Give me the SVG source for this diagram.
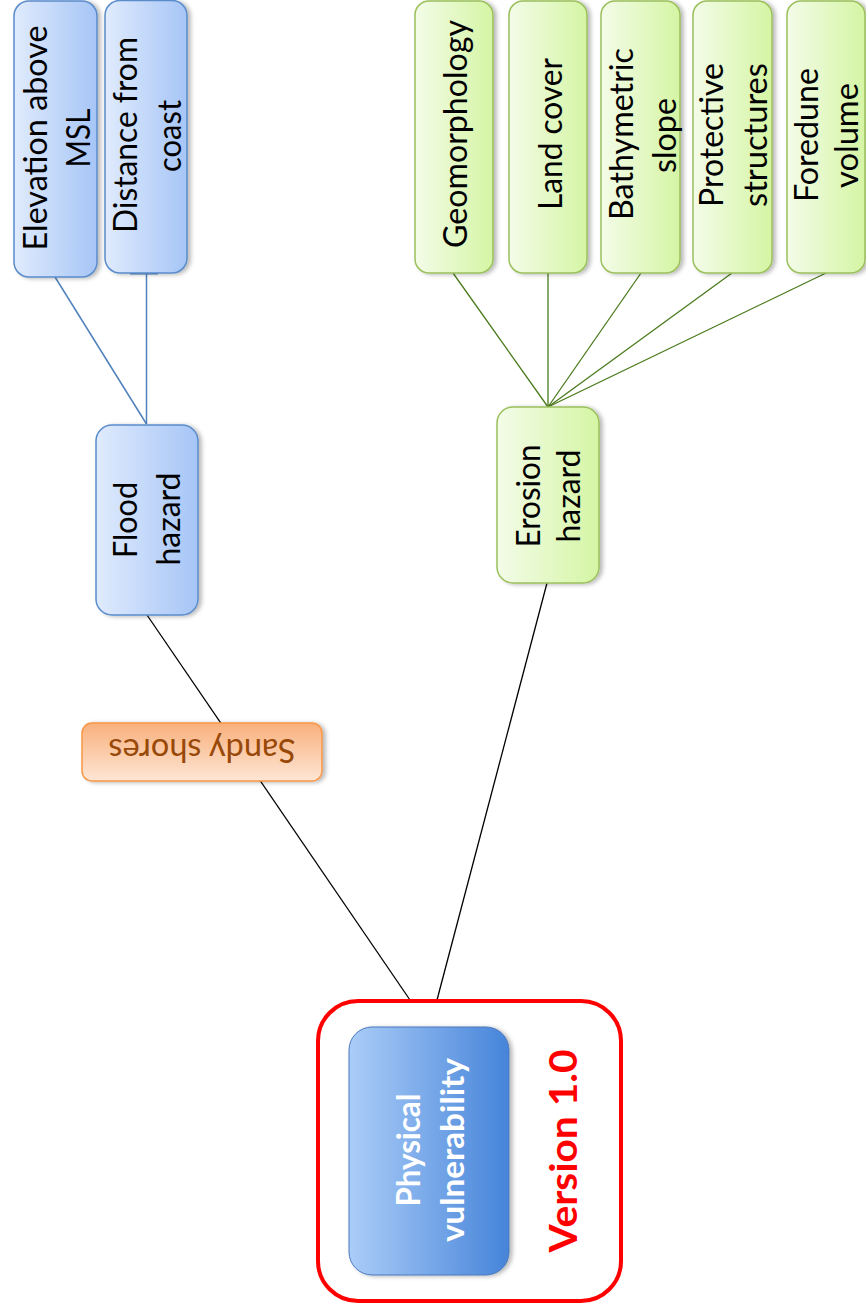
<svg xmlns="http://www.w3.org/2000/svg" width="866" height="1309" viewBox="0 0 866 1309">
<defs>
<linearGradient id="gBlue" x1="0" y1="0" x2="1" y2="0"><stop offset="0" stop-color="#e0ebfd"/><stop offset="1" stop-color="#a6c5f6"/></linearGradient>
<linearGradient id="gGreen" x1="0" y1="0" x2="1" y2="0"><stop offset="0" stop-color="#f3fce8"/><stop offset="1" stop-color="#d5f5a4"/></linearGradient>
<linearGradient id="gOrange" x1="0" y1="0" x2="0" y2="1"><stop offset="0" stop-color="#f9b07c"/><stop offset="1" stop-color="#fde6d5"/></linearGradient>
<linearGradient id="gPhys" x1="0" y1="0" x2="1" y2="0"><stop offset="0" stop-color="#abcdf8"/><stop offset="1" stop-color="#4684d9"/></linearGradient>
<filter id="sh" x="-10%" y="-10%" width="130%" height="130%"><feDropShadow dx="3" dy="1" stdDeviation="2" flood-color="#000" flood-opacity="0.28"/></filter>
</defs>
<style>
.blue{fill:url(#gBlue);stroke:#5a8ccb;stroke-width:1.5;filter:url(#sh)}
.green{fill:url(#gGreen);stroke:#9bc05c;stroke-width:1.5;filter:url(#sh)}
.t{font-family:Lato,"Open Sans",sans-serif;font-size:33px;fill:#000;text-anchor:middle}
.cb{stroke:#4f81bd;stroke-width:1.5;fill:none}
.cg{stroke:#4a7a1c;stroke-width:1.3;fill:none}
.ck{stroke:#000;stroke-width:1.3;fill:none}
</style>
<g id="connectors">
<line class="cb" x1="55" y1="277" x2="146.5" y2="424"/>
<line class="cb" x1="146.5" y1="273" x2="146.5" y2="424"/>
<line x1="130" y1="273" x2="158" y2="273" stroke="#4f81bd" stroke-width="3"/>
<line class="cg" x1="453" y1="273" x2="548" y2="407"/>
<line class="cg" x1="548" y1="273" x2="548" y2="407"/>
<line class="cg" x1="641" y1="273" x2="548" y2="407"/>
<line class="cg" x1="732" y1="273" x2="548" y2="407"/>
<line class="cg" x1="826" y1="273" x2="548" y2="407"/>
<line class="ck" x1="147" y1="615" x2="410" y2="1000"/>
<line class="ck" x1="547" y1="583" x2="437" y2="1000"/>
</g>
<g id="elevation">
<rect class="blue" x="14" y="1" width="83" height="276" rx="15"/>
<text class="t" transform="translate(47,138) rotate(-90)" textLength="225" lengthAdjust="spacingAndGlyphs">Elevation above</text>
<text class="t" transform="translate(90,138) rotate(-90)" textLength="59" lengthAdjust="spacingAndGlyphs">MSL</text>
</g>
<g id="distance">
<rect class="blue" x="105" y="0.5" width="82" height="272.5" rx="15"/>
<text class="t" transform="translate(137,135) rotate(-90)" textLength="196" lengthAdjust="spacingAndGlyphs">Distance from</text>
<text class="t" transform="translate(181,136) rotate(-90)" textLength="72" lengthAdjust="spacingAndGlyphs">coast</text>
</g>
<g id="geomorphology">
<rect class="green" x="415" y="1" width="78" height="272" rx="14"/>
<text class="t" transform="translate(467,134) rotate(-90)" textLength="228" lengthAdjust="spacingAndGlyphs">Geomorphology</text>
</g>
<g id="landcover">
<rect class="green" x="509" y="1" width="78" height="272" rx="14"/>
<text class="t" transform="translate(562,134) rotate(-90)" textLength="152" lengthAdjust="spacingAndGlyphs">Land cover</text>
</g>
<g id="bathymetric">
<rect class="green" x="601" y="1" width="79" height="272" rx="14"/>
<text class="t" transform="translate(633,134) rotate(-90)" textLength="172" lengthAdjust="spacingAndGlyphs">Bathymetric</text>
<text class="t" transform="translate(676,135.5) rotate(-90)" textLength="75" lengthAdjust="spacingAndGlyphs">slope</text>
</g>
<g id="protective">
<rect class="green" x="693" y="1" width="79" height="272" rx="14"/>
<text class="t" transform="translate(723,135) rotate(-90)" textLength="144" lengthAdjust="spacingAndGlyphs">Protective</text>
<text class="t" transform="translate(767,135) rotate(-90)" textLength="144" lengthAdjust="spacingAndGlyphs">structures</text>
</g>
<g id="foredune">
<rect class="green" x="787" y="1" width="78" height="272" rx="14"/>
<text class="t" transform="translate(818,135) rotate(-90)" textLength="134" lengthAdjust="spacingAndGlyphs">Foredune</text>
<text class="t" transform="translate(858,135.5) rotate(-90)" textLength="105" lengthAdjust="spacingAndGlyphs">volume</text>
</g>
<g id="flood">
<rect class="blue" x="96" y="425" width="102" height="190" rx="16"/>
<text class="t" transform="translate(137,520) rotate(-90)" textLength="76" lengthAdjust="spacingAndGlyphs">Flood</text>
<text class="t" transform="translate(180,519) rotate(-90)" textLength="93" lengthAdjust="spacingAndGlyphs">hazard</text>
</g>
<g id="erosion">
<rect class="green" x="497" y="407" width="102" height="176" rx="16"/>
<text class="t" transform="translate(540,496) rotate(-90)" textLength="103" lengthAdjust="spacingAndGlyphs">Erosion</text>
<text class="t" transform="translate(580,496) rotate(-90)" textLength="93" lengthAdjust="spacingAndGlyphs">hazard</text>
</g>
<g id="sandy">
<rect x="82" y="723" width="240" height="58" rx="10" fill="url(#gOrange)" stroke="#f79646" stroke-width="1.5" filter="url(#sh)"/>
<text class="t" transform="translate(202,739) rotate(180)" style="fill:#984807" textLength="187" lengthAdjust="spacingAndGlyphs">Sandy shores</text>
</g>
<g id="physical">
<rect x="318" y="1001" width="303" height="300" rx="40" fill="#fff" stroke="#ff0000" stroke-width="4"/>
<rect x="349" y="1027" width="160" height="248" rx="23" fill="url(#gPhys)" stroke="#4a78bd" stroke-width="1" filter="url(#sh)"/>
<text class="t" transform="translate(420,1150) rotate(-90)" style="fill:#fff;font-weight:bold;font-size:32px" textLength="113" lengthAdjust="spacingAndGlyphs">Physical</text>
<text class="t" transform="translate(464,1150) rotate(-90)" style="fill:#fff;font-weight:bold;font-size:32px" textLength="184" lengthAdjust="spacingAndGlyphs">vulnerability</text>
<text class="t" transform="translate(577,1151) rotate(-90)" style="fill:#ff0000;font-weight:bold;font-size:38px" textLength="203" lengthAdjust="spacingAndGlyphs">Version 1.0</text>
</g>
</svg>
